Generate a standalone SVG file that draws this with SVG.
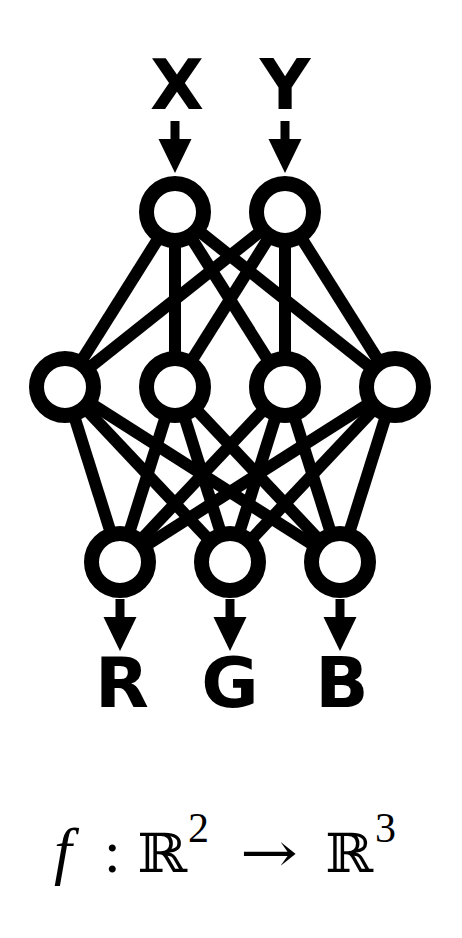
<svg xmlns="http://www.w3.org/2000/svg" width="462" height="938" viewBox="0 0 462 938">
<style>
.edge{stroke:#000;stroke-width:12;fill:none}
.node{fill:#fff;stroke:#000;stroke-width:15}
.lbl{font-family:"DejaVu Sans",sans-serif;font-weight:bold;font-size:70px;text-anchor:middle;fill:#000}
.m{font-family:"Liberation Serif",serif;fill:#000}
.ds{font-family:"DejaVu Serif",serif;fill:#000}
</style>
<defs>
<g id="arr"><rect x="-4.5" y="0" width="9" height="19"/><polygon points="-16.5,18 16.5,18 0,52"/></g>
</defs>
<rect width="462" height="938" fill="#fff"/>
<g id="connectors">
<line class="edge" x1="175" y1="212" x2="65" y2="387"/>
<line class="edge" x1="175" y1="212" x2="175" y2="387"/>
<line class="edge" x1="175" y1="212" x2="285" y2="387"/>
<line class="edge" x1="175" y1="212" x2="395" y2="387"/>
<line class="edge" x1="285" y1="212" x2="65" y2="387"/>
<line class="edge" x1="285" y1="212" x2="175" y2="387"/>
<line class="edge" x1="285" y1="212" x2="285" y2="387"/>
<line class="edge" x1="285" y1="212" x2="395" y2="387"/>
<line class="edge" x1="65" y1="387" x2="120" y2="562"/>
<line class="edge" x1="65" y1="387" x2="230" y2="562"/>
<line class="edge" x1="65" y1="387" x2="340" y2="562"/>
<line class="edge" x1="175" y1="387" x2="120" y2="562"/>
<line class="edge" x1="175" y1="387" x2="230" y2="562"/>
<line class="edge" x1="175" y1="387" x2="340" y2="562"/>
<line class="edge" x1="285" y1="387" x2="120" y2="562"/>
<line class="edge" x1="285" y1="387" x2="230" y2="562"/>
<line class="edge" x1="285" y1="387" x2="340" y2="562"/>
<line class="edge" x1="395" y1="387" x2="120" y2="562"/>
<line class="edge" x1="395" y1="387" x2="230" y2="562"/>
<line class="edge" x1="395" y1="387" x2="340" y2="562"/>
<use href="#arr" transform="translate(175,121)"/>
<use href="#arr" transform="translate(285,121)"/>
<use href="#arr" transform="translate(120,599)"/>
<use href="#arr" transform="translate(230,599)"/>
<use href="#arr" transform="translate(340,599)"/>
</g>
<g id="in-x"><circle class="node" cx="175" cy="212" r="28.5"/></g>
<g id="in-y"><circle class="node" cx="285" cy="212" r="28.5"/></g>
<g id="h1"><circle class="node" cx="65" cy="387" r="28.5"/></g>
<g id="h2"><circle class="node" cx="175" cy="387" r="28.5"/></g>
<g id="h3"><circle class="node" cx="285" cy="387" r="28.5"/></g>
<g id="h4"><circle class="node" cx="395" cy="387" r="28.5"/></g>
<g id="out-r"><circle class="node" cx="120" cy="562" r="28.5"/></g>
<g id="out-g"><circle class="node" cx="230" cy="562" r="28.5"/></g>
<g id="out-b"><circle class="node" cx="340" cy="562" r="28.5"/></g>
<g id="labels">
<text class="lbl" x="177" y="109">X</text>
<text class="lbl" x="285" y="109">Y</text>
<text class="lbl" x="122" y="707">R</text>
<text class="lbl" x="230" y="707">G</text>
<text class="lbl" x="342" y="707">B</text>
</g>
<g id="formula">
<text class="m" x="54" y="872" font-size="64" font-style="italic">f</text>
<text class="m" x="104" y="872" font-size="60">:</text>
<text class="ds" x="137" y="872" font-size="54" textLength="50" lengthAdjust="spacingAndGlyphs">ℝ</text>
<text class="m" x="188" y="842" font-size="42">2</text>
<text class="ds" x="240" y="872" font-size="56" textLength="58" lengthAdjust="spacingAndGlyphs">→</text>
<text class="ds" x="325" y="872" font-size="54" textLength="48" lengthAdjust="spacingAndGlyphs">ℝ</text>
<text class="m" x="375" y="842" font-size="42">3</text>
</g>
</svg>
